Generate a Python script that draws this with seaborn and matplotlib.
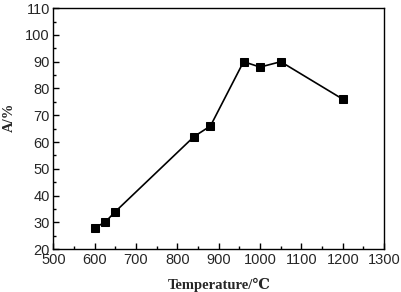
import matplotlib
matplotlib.use("Agg")
import matplotlib.pyplot as plt
import seaborn as sns
import pandas as pd
from matplotlib.ticker import MultipleLocator

temperature = [600, 625, 650, 840, 880, 960, 1000, 1050, 1200]
a_percent = [28, 30, 34, 62, 66, 90, 88, 90, 76]

sns.set_style("ticks")
plt.rcParams['font.family'] = ['Liberation Sans', 'DejaVu Sans']

df = pd.DataFrame({"T": temperature, "A": a_percent})
fig = plt.figure(figsize=(4.01, 2.92), dpi=100)
ax = fig.add_axes([0.133, 0.147, 0.825, 0.825])
sns.lineplot(data=df, x="T", y="A", ax=ax, color="black", linewidth=1.2,
             marker="s", markersize=6, markeredgecolor="black", markerfacecolor="black")

ax.set_xlim(500, 1300)
ax.set_ylim(20, 110)
ax.xaxis.set_major_locator(MultipleLocator(100))
ax.xaxis.set_minor_locator(MultipleLocator(50))
ax.yaxis.set_major_locator(MultipleLocator(10))
ax.yaxis.set_minor_locator(MultipleLocator(5))
ax.tick_params(which="both", direction="in", top=False, right=False, color="black")
ax.tick_params(which="major", length=4, width=1, labelsize=10.5, pad=2.5)
ax.tick_params(which="minor", length=2, width=1)
for s in ax.spines.values():
    s.set_visible(True)
    s.set_color("black")
    s.set_linewidth(1)

ax.set_xlabel("Temperature/℃", fontsize=10.5, fontweight="bold",
              family=['Liberation Serif', 'DejaVu Serif'])
ax.set_ylabel("A/%", fontsize=10.5, fontweight="bold",
              family=['Liberation Serif', 'DejaVu Serif'])
ax.xaxis.set_label_coords(0.502, -0.118)
ax.yaxis.set_label_coords(-0.112, 0.548)

fig.savefig("out.png", dpi=100)
